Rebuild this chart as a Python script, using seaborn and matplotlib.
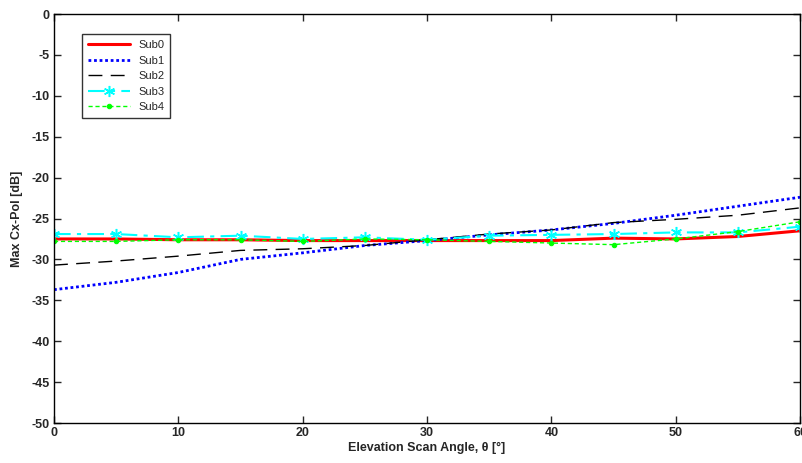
import numpy as np
import pandas as pd
import matplotlib
matplotlib.use("Agg")
import matplotlib.pyplot as plt
import seaborn as sns

angles = [0, 5, 10, 15, 20, 25, 30, 35, 40, 45, 50, 55, 60]
sub0 = [-27.5, -27.5, -27.6, -27.6, -27.7, -27.7, -27.7, -27.7, -27.7, -27.4, -27.5, -27.2, -26.5]
sub1 = [-33.7, -32.8, -31.6, -30.0, -29.2, -28.3, -27.7, -27.0, -26.4, -25.6, -24.6, -23.5, -22.4]
sub2 = [-30.7, -30.2, -29.6, -28.9, -28.7, -28.3, -27.6, -26.9, -26.4, -25.5, -25.1, -24.6, -23.7]
sub3 = [-26.9, -26.9, -27.3, -27.1, -27.5, -27.3, -27.6, -27.1, -27.0, -26.9, -26.7, -26.7, -26.0]
sub4 = [-27.8, -27.8, -27.6, -27.6, -27.8, -27.5, -27.6, -27.8, -28.0, -28.2, -27.5, -26.6, -25.4]
series_names = ["Sub0", "Sub1", "Sub2", "Sub3", "Sub4"]
xticks = [0, 10, 20, 30, 40, 50, 60]
yticks = [0, -5, -10, -15, -20, -25, -30, -35, -40, -45, -50]

sns.set_style("white")
plt.rcParams['font.family'] = ['Liberation Sans', 'DejaVu Sans']

fig = plt.figure(figsize=(8.03, 4.63), dpi=100)
ax = fig.add_axes([54/803, 40/463, 746/803, 409/463])

styles = {
    "Sub0": dict(color="#ff0000", linestyle="-", linewidth=2.2),
    "Sub1": dict(color="#0000ff", linestyle=(0, (1, 1)), linewidth=2.0),
    "Sub2": dict(color="#000000", linestyle=(0, (10, 6)), linewidth=1.0),
    "Sub3": dict(color="#00ffff", linestyle=(0, (8, 3, 2, 3)), linewidth=1.5,
                 marker=(6, 2, 0), markersize=8, markeredgewidth=1.1,
                 markeredgecolor="#00ffff"),
    "Sub4": dict(color="#00ff00", linestyle=(0, (3, 2)), linewidth=1.0,
                 marker="o", markersize=3.2, markeredgecolor="#00ff00",
                 markerfacecolor="#00ff00"),
}
data = [sub0, sub1, sub2, sub3, sub4]
for name, vals in zip(series_names, data):
    df = pd.DataFrame({"angle": angles, "val": vals})
    sns.lineplot(data=df, x="angle", y="val", ax=ax, label=name, **styles[name])

ax.set_xlim(0, 60)
ax.set_ylim(-50, 0)
ax.set_xticks(xticks)
ax.set_yticks(yticks)
ax.set_xticklabels([str(t) for t in xticks], fontweight="bold", fontsize=9)
ax.set_yticklabels([str(t) for t in yticks], fontweight="bold", fontsize=9)
ax.tick_params(direction="in", length=5, width=1, pad=3, top=True, right=True, bottom=True, left=True)
ax.tick_params(axis="x", labeltop=False)
ax.tick_params(axis="y", labelright=False)
for s in ax.spines.values():
    s.set_visible(True)
    s.set_color("black")
    s.set_linewidth(1.0)
ax.set_xlabel("Elevation Scan Angle, θ [°]", fontweight="bold", fontsize=9, labelpad=2)
ax.set_ylabel("Max Cx-Pol [dB]", fontweight="bold", fontsize=9, labelpad=6)

leg = ax.legend(loc="upper left", bbox_to_anchor=(0.0375, 0.95), borderaxespad=0,
                fontsize=8, frameon=True, fancybox=False, edgecolor="black",
                handlelength=3.8, labelspacing=0.5, borderpad=0.5)
leg.get_frame().set_linewidth(1.0)

fig.savefig("out.png", dpi=100, facecolor="white")
